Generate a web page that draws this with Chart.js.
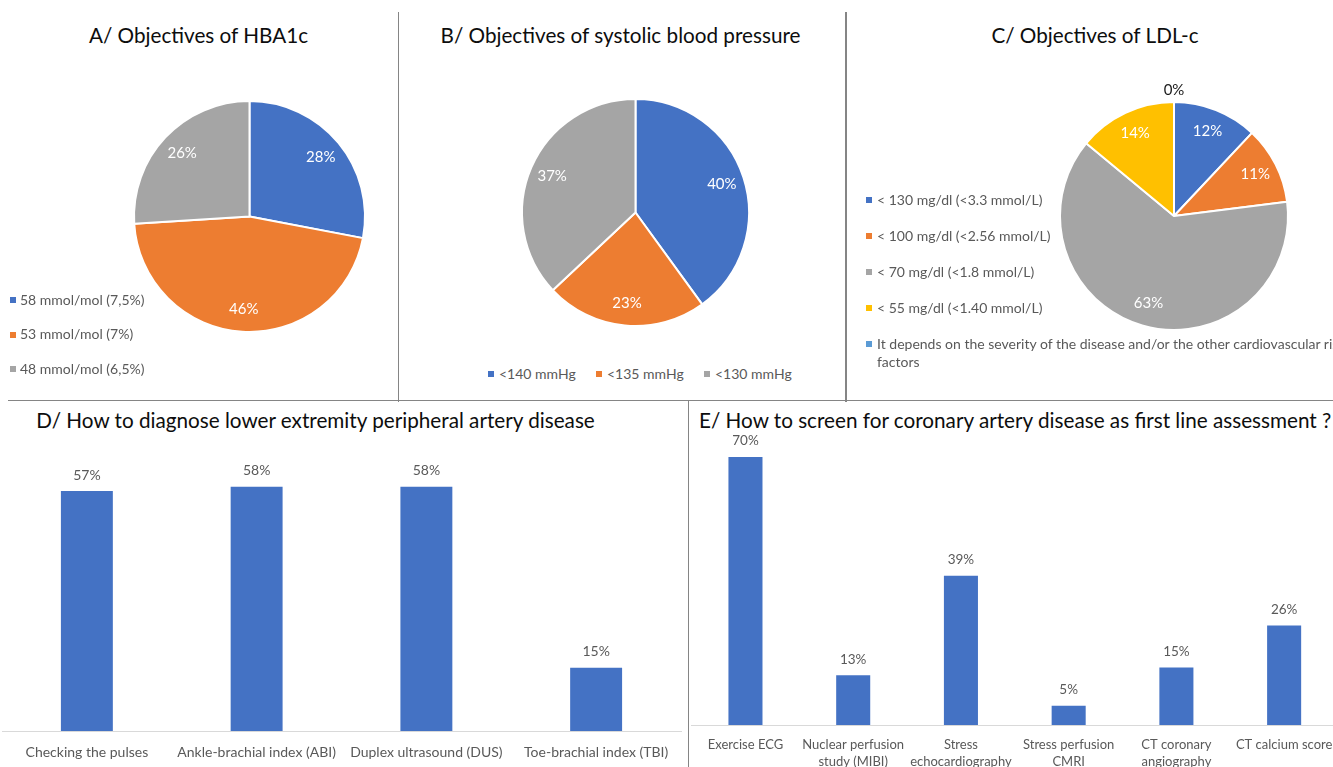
<!DOCTYPE html>
<html>
<head>
<meta charset="utf-8">
<script src="https://cdn.jsdelivr.net/npm/chart.js@4.4.1/dist/chart.umd.min.js"></script>
<style>
  html, body { margin: 0; padding: 0; background: #fff; }
  body { position: relative; width: 1333px; height: 767px; overflow: hidden; font-family: Lato, "Open Sans", sans-serif; }
  .title { position: absolute; font-size: 20.7px; line-height: 24px; color: #0d0d0d; white-space: nowrap; }
  .legend-text { position: absolute; font-size: 14px; line-height: 16px; color: #595959; white-space: nowrap; }
  .legend-mark { position: absolute; width: 6px; height: 6px; }
  .rule { position: absolute; background: #858585; }
  canvas { position: absolute; }
</style>
</head>
<body>
<script>
// ---- data ----
const hba1cLabels = ['58 mmol/mol (7,5%)', '53 mmol/mol (7%)', '48 mmol/mol (6,5%)'];
const hba1cValues = [28, 46, 26];

const sbpLabels = ['<140 mmHg', '<135 mmHg', '<130 mmHg'];
const sbpValues = [40, 23, 37];

const ldlLabels = [
  '< 130 mg/dl (<3.3 mmol/L)',
  '< 100 mg/dl (<2.56 mmol/L)',
  '< 70 mg/dl (<1.8 mmol/L)',
  '< 55 mg/dl (<1.40 mmol/L)',
  ['It depends on the severity of the disease and/or the other cardiovascular risk', 'factors']
];
const ldlValues = [12, 11, 63, 14, 0];

const padLabels = ['Checking the pulses', 'Ankle-brachial index (ABI)', 'Duplex ultrasound (DUS)', 'Toe-brachial index (TBI)'];
const padValues = [57, 58, 58, 15];

const cadLabels = [
  'Exercise ECG',
  ['Nuclear perfusion', 'study (MIBI)'],
  ['Stress', 'echocardiography'],
  ['Stress perfusion', 'CMRI'],
  ['CT coronary', 'angiography'],
  'CT calcium score'
];
const cadValues = [70, 13, 39, 5, 15, 26];

const titles = [
  'A/ Objectives of HBA1c',
  'B/ Objectives of systolic blood pressure',
  'C/ Objectives of LDL-c',
  'D/ How to diagnose lower extremity peripheral artery disease',
  'E/ How to screen for coronary artery disease as first line assessment ?'
];

const sliceColors = ['#4472C4', '#ED7D31', '#A5A5A5', '#FFC000', '#5B9BD5'];
const barColor = '#4472C4';
const FONT = 'Lato, "Open Sans", sans-serif';

Chart.defaults.font.family = FONT;

// ---- helpers ----
function addCanvas(x, y, w, h) {
  const c = document.createElement('canvas');
  c.width = w; c.height = h;
  c.style.left = x + 'px'; c.style.top = y + 'px';
  c.style.width = w + 'px'; c.style.height = h + 'px';
  document.body.appendChild(c);
  return c;
}
function addTitle(text, x, capY, align) {
  const d = document.createElement('div');
  d.className = 'title';
  d.textContent = text;
  d.style.top = (capY - 12.6) + 'px';
  if (align === 'center') {
    d.style.left = (x - 400) + 'px'; d.style.width = '800px'; d.style.textAlign = 'center';
  } else {
    d.style.left = x + 'px';
  }
  document.body.appendChild(d);
}
function addRule(x, y, w, h) {
  const d = document.createElement('div');
  d.className = 'rule';
  Object.assign(d.style, { left: x + 'px', top: y + 'px', width: w + 'px', height: h + 'px' });
  document.body.appendChild(d);
}
function addLegendItem(color, text, markX, textX, cy) {
  const m = document.createElement('div');
  m.className = 'legend-mark';
  m.style.background = color;
  m.style.left = markX + 'px'; m.style.top = (cy - 3) + 'px';
  document.body.appendChild(m);
  const lines = Array.isArray(text) ? text : [text];
  lines.forEach((line, k) => {
    const t = document.createElement('div');
    t.className = 'legend-text';
    t.textContent = line;
    t.style.left = textX + 'px'; t.style.top = (cy - 8.4 + k * 18) + 'px';
    document.body.appendChild(t);
  });
}

// percentage labels inside each slice; empty slices get theirs just outside the rim
const sliceLabels = {
  id: 'sliceLabels',
  afterDatasetsDraw(chart) {
    const ctx = chart.ctx;
    const vals = chart.data.datasets[0].data;
    ctx.save();
    ctx.font = '15px ' + FONT;
    ctx.textAlign = 'center';
    ctx.textBaseline = 'middle';
    chart.getDatasetMeta(0).data.forEach((arc, i) => {
      const p = arc.getProps(['x', 'y', 'startAngle', 'endAngle', 'outerRadius'], true);
      const mid = (p.startAngle + p.endAngle) / 2;
      const empty = vals[i] === 0;
      const d = p.outerRadius * (empty ? 1.1 : 0.8);
      ctx.fillStyle = empty ? '#1a1a1a' : '#ffffff';
      ctx.fillText(vals[i] + '%', p.x + Math.cos(mid) * d, p.y + Math.sin(mid) * d);
    });
    ctx.restore();
  }
};

// value labels above each bar
const barValueLabels = {
  id: 'barValueLabels',
  afterDatasetsDraw(chart, args, opts) {
    const ctx = chart.ctx;
    const vals = chart.data.datasets[0].data;
    ctx.save();
    ctx.font = (opts.size || 13) + 'px ' + FONT;
    ctx.fillStyle = '#595959';
    ctx.textAlign = 'center';
    ctx.textBaseline = 'middle';
    chart.getDatasetMeta(0).data.forEach((bar, i) => {
      ctx.fillText(vals[i] + '%', bar.x, bar.y - 16);
    });
    ctx.restore();
  }
};

function drawPie(cx, cy, r, labels, values) {
  const pad = 22;
  const size = 2 * r + 2 + 2 * pad;
  const cv = addCanvas(cx - size / 2, cy - size / 2, size, size);
  new Chart(cv, {
    type: 'pie',
    data: {
      labels: labels,
      datasets: [{
        data: values,
        backgroundColor: sliceColors.slice(0, values.length),
        borderColor: '#ffffff',
        borderWidth: 2,
        hoverBorderWidth: 2,
        hoverOffset: 0
      }]
    },
    options: {
      responsive: false,
      animation: false,
      devicePixelRatio: 1,
      layout: { padding: pad },
      plugins: { legend: { display: false }, tooltip: { enabled: false } }
    },
    plugins: [sliceLabels]
  });
}

function drawBars(cfg) {
  const cv = addCanvas(cfg.x, cfg.y, cfg.w, cfg.h);
  new Chart(cv, {
    type: 'bar',
    data: {
      labels: cfg.labels,
      datasets: [{
        data: cfg.values,
        backgroundColor: barColor,
        barPercentage: cfg.barPct,
        categoryPercentage: 1
      }]
    },
    options: {
      responsive: false,
      animation: false,
      devicePixelRatio: 1,
      layout: { padding: cfg.pad },
      plugins: {
        legend: { display: false },
        tooltip: { enabled: false },
        barValueLabels: { size: cfg.valueSize }
      },
      scales: {
        x: {
          grid: { display: true, color: 'transparent', drawOnChartArea: false, drawTicks: true, tickLength: cfg.tickGap },
          border: { display: true, color: '#d9d9d9', width: 1 },
          ticks: {
            color: '#595959',
            font: { size: cfg.tickSize, lineHeight: 1.3 },
            padding: 0,
            autoSkip: false,
            maxRotation: 0,
            minRotation: 0
          },
          afterFit(scale) { scale.height = cfg.axisH; }
        },
        y: { display: false, min: 0, max: cfg.max }
      }
    },
    plugins: [barValueLabels]
  });
}

// ---- panel frames ----
addRule(397.5, 12, 1.5, 390);
addRule(845, 12, 1.5, 390);
addRule(8, 399.5, 1325, 1.5);
addRule(687.5, 400, 1.5, 367);

// ---- titles ----
addTitle(titles[0], 198.5, 36, 'center');
addTitle(titles[1], 620.5, 35.5, 'center');
addTitle(titles[2], 1095, 35.5, 'center');
addTitle(titles[3], 315.5, 421, 'center');
addTitle(titles[4], 699, 421, 'left');

// ---- A: HbA1c ----
drawPie(249, 216.5, 115.5, hba1cLabels, hba1cValues);
hba1cLabels.forEach((lab, i) => addLegendItem(sliceColors[i], lab, 10, 20, 300 + i * 34.5));

// ---- B: systolic blood pressure ----
drawPie(635.5, 212, 113.5, sbpLabels, sbpValues);
sbpLabels.forEach((lab, i) => addLegendItem(sliceColors[i], lab, 488 + i * 108, 499 + i * 108, 374));

// ---- C: LDL-c ----
drawPie(1174, 215.5, 114, ldlLabels, ldlValues);
ldlLabels.forEach((lab, i) => addLegendItem(sliceColors[i], lab, 866, 877, 200 + i * 36));

// ---- D: peripheral artery disease ----
drawBars({
  x: 0, y: 425, w: 688, h: 342,
  pad: { left: 2, right: 7, top: 11.3, bottom: 0 },
  axisH: 36, tickGap: 12.5, max: 70, barPct: 0.306,
  tickSize: 14, valueSize: 14,
  labels: padLabels, values: padValues
});

// ---- E: coronary artery disease ----
drawBars({
  x: 688, y: 410, w: 660, h: 365,
  pad: { left: 3.6, right: 10, top: 8.6, bottom: 0 },
  axisH: 50, tickGap: 11.5, max: 80, barPct: 0.316,
  tickSize: 13, valueSize: 13.5,
  labels: cadLabels, values: cadValues
});
</script>
</body>
</html>
